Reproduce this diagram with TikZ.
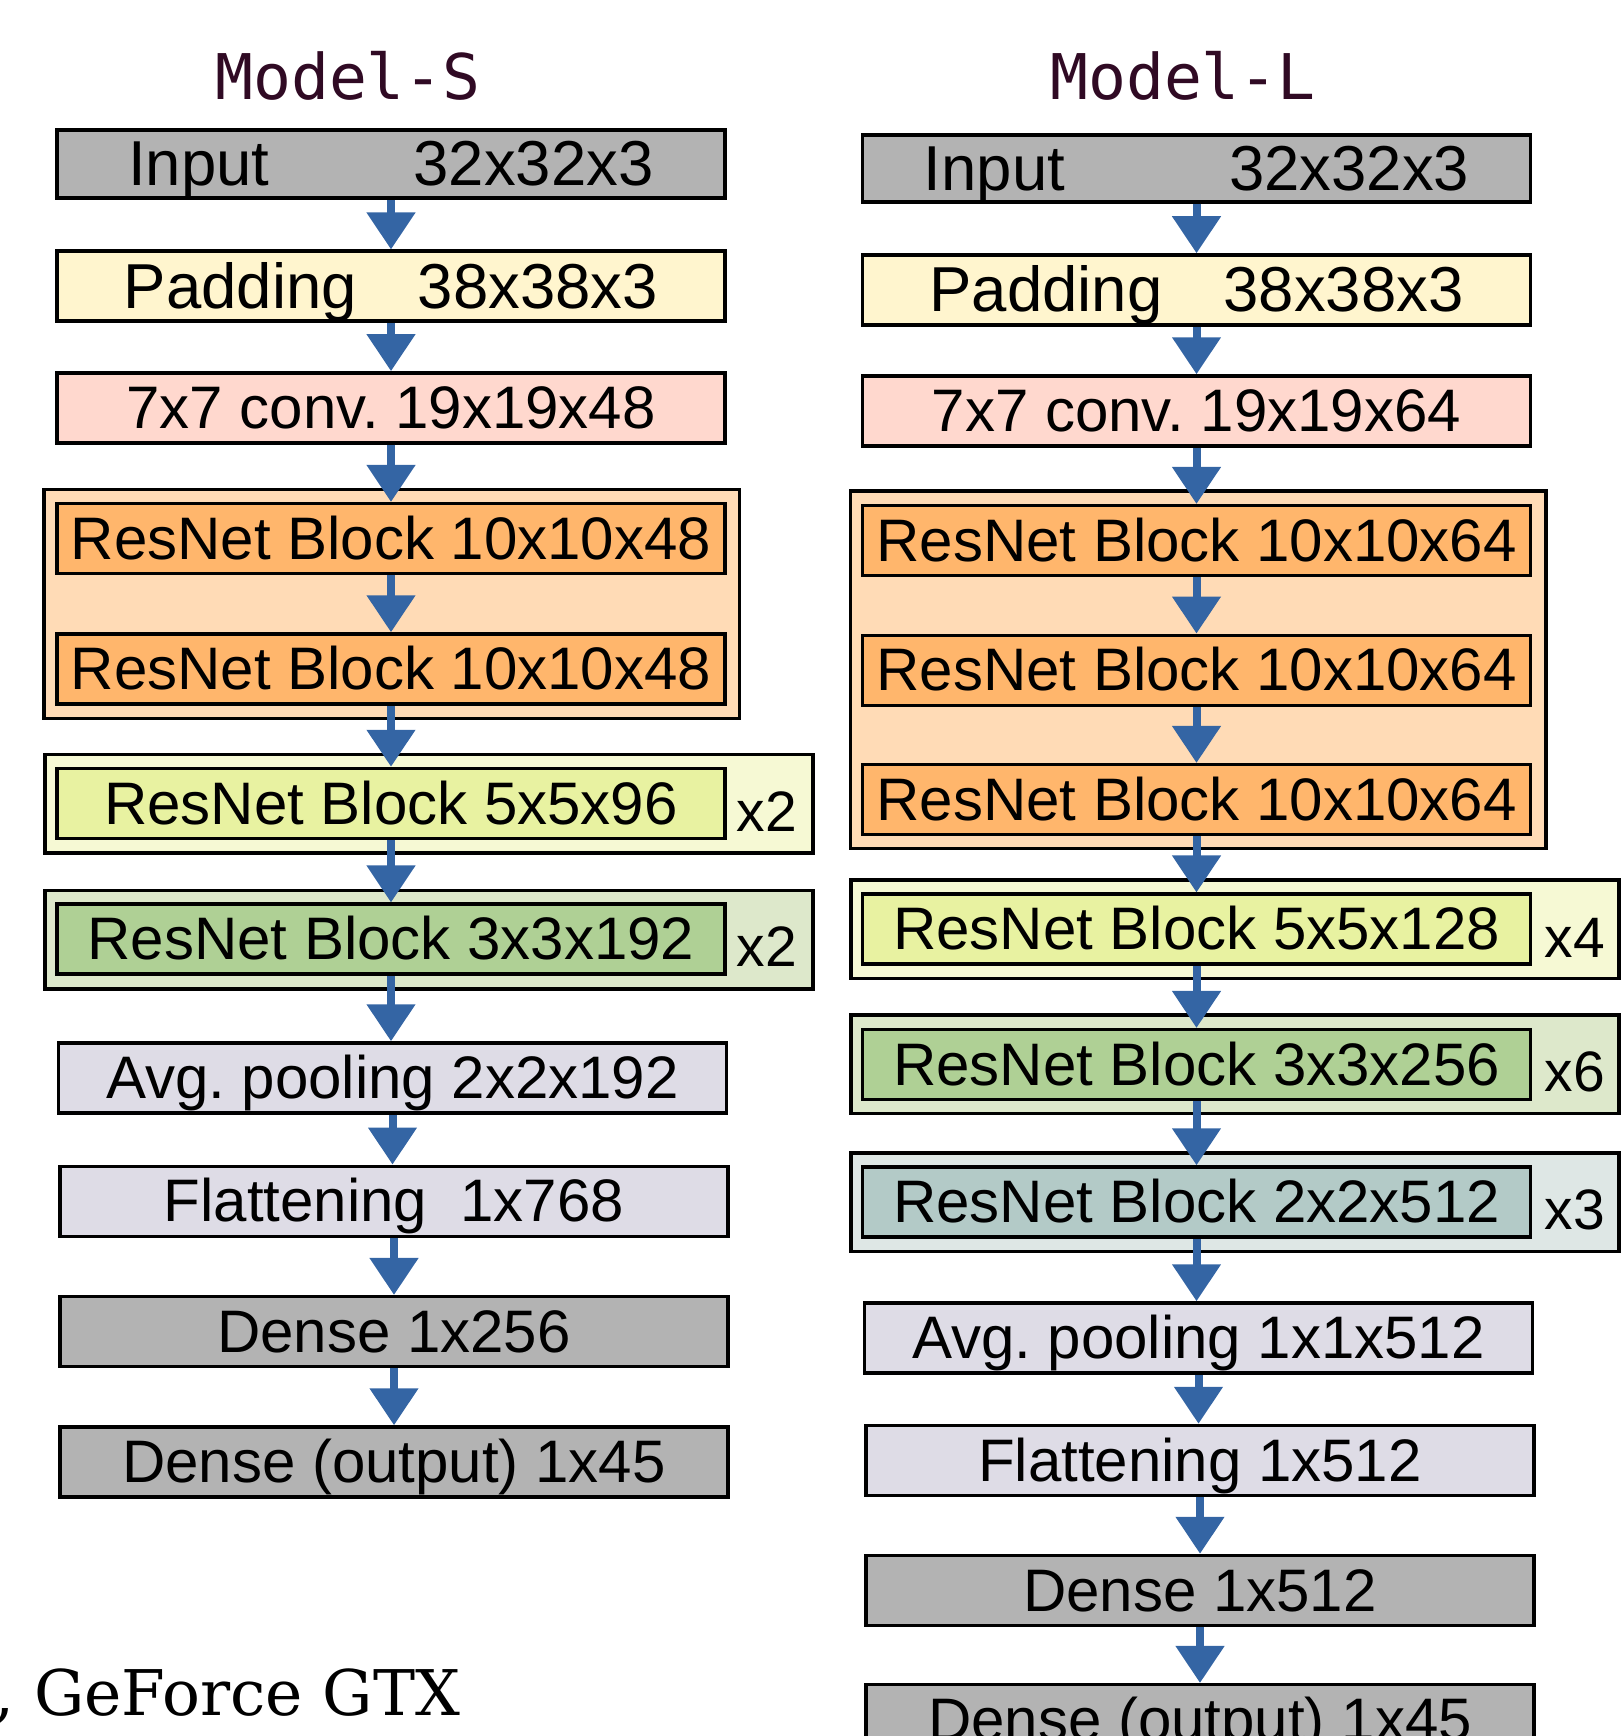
\documentclass[tikz,border=0pt]{standalone}
\usepackage{fontspec}
\setsansfont{Liberation Sans}
\newfontfamily\hdrfont{DejaVu Sans Mono}
\newfontfamily\pagefont{DejaVu Serif}
\usetikzlibrary{arrows.meta,positioning,calc}
\frenchspacing
\definecolor{grayfill}{HTML}{B3B3B3}
\definecolor{padfill}{HTML}{FFF5CE}
\definecolor{convfill}{HTML}{FFD8CE}
\definecolor{orgout}{HTML}{FFDBB6}
\definecolor{orgin}{HTML}{FFB66C}
\definecolor{limeout}{HTML}{F6F9D4}
\definecolor{limein}{HTML}{E8F2A1}
\definecolor{grnout}{HTML}{DDE8CB}
\definecolor{grnin}{HTML}{AFD095}
\definecolor{tealout}{HTML}{DEE7E5}
\definecolor{tealin}{HTML}{B3CAC7}
\definecolor{poolfill}{HTML}{DEDCE6}
\definecolor{arrowblue}{HTML}{3465A4}
\definecolor{hdrclr}{HTML}{300A24}
\begin{document}
\begin{tikzpicture}[font=\sffamily,x=1pt,y=-1pt]
\tikzset{layer/.style={draw=black,line width=3.5pt,minimum width=668pt,minimum height=70pt,inner sep=0pt,text height=41.3pt,text depth=0pt,font=\sffamily\fontsize{60}{72}\selectfont}, big/.style={text height=43.6pt,font=\sffamily\fontsize{63.5}{76}\selectfont}, group/.style={draw=black,line width=3.5pt,inner sep=0pt,minimum width=768pt,minimum height=98.5pt}, rep/.style={anchor=base,inner sep=0pt,font=\sffamily\fontsize{57}{68}\selectfont}, flow/.style={-{Triangle[width=47pt,length=37pt]},line width=8pt,draw=arrowblue}, hdr/.style={anchor=base,inner sep=0pt,text=hdrclr,font=\hdrfont\fontsize{63}{76}\selectfont}}
\useasboundingbox (0,0) rectangle (1621,1736);
% Model-S
\node[hdr] (sHdr) at (348,99.3) {Model-S};
\node[layer,big,fill=grayfill,minimum height=68pt] (sIn) at (391,164.2) {Input\hspace{144pt}32x32x3};
\node[layer,big,fill=padfill] (sPad) at (391,286.2) {Padding\hspace{61pt}38x38x3};
\node[layer,fill=convfill] (sConv) at (391,407.9) {7x7 conv. 19x19x48};
\node[group,fill=orgout,minimum width=695.5pt,minimum height=228.8pt] (sGrpA) at (391.5,603.9) {};
\node[layer,fill=orgin] (sRA1) at (391,538.7) {ResNet Block 10x10x48};
\node[layer,fill=orgin] (sRA2) at (391,669) {ResNet Block 10x10x48};
\node[group,fill=limeout] (sGrpB) at (429,803.7) {};
\node[layer,fill=limein] (sRB) at (391,803.5) {ResNet Block 5x5x96};
\node[rep] (sRepB) at ($(sGrpB.south east)+(-48,-23)$) {x2};
\node[group,fill=grnout] (sGrpC) at (429,939.7) {};
\node[layer,fill=grnin] (sRC) at (391,939.2) {ResNet Block 3x3x192};
\node[rep] (sRepC) at ($(sGrpC.south east)+(-48,-24)$) {x2};
\node[layer,fill=poolfill] (sAvg) at (392.5,1078) {Avg. pooling 2x2x192};
\node[layer,fill=poolfill] (sFlat) at (394,1201.3) {Flattening\ \ 1x768};
\node[layer,fill=grayfill] (sDense) at (394,1331.7) {Dense 1x256};
\node[layer,fill=grayfill] (sOut) at (394,1462) {Dense (output) 1x45};
% Model-L
\node[hdr] (lHdr) at (1183,99.3) {Model-L};
\node[layer,big,fill=grayfill,minimum height=67pt] (lIn) at (1196.5,168.3) {Input\hspace{164pt}32x32x3};
\node[layer,big,fill=padfill] (lPad) at (1196.5,290) {Padding\hspace{61pt}38x38x3};
\node[layer,fill=convfill] (lConv) at (1196.5,411) {7x7 conv. 19x19x64};
\node[group,fill=orgout,minimum width=695.5pt,minimum height=357.2pt] (lGrpA) at (1198,669.7) {};
\node[layer,fill=orgin] (lRA1) at (1196.5,540.7) {ResNet Block 10x10x64};
\node[layer,fill=orgin] (lRA2) at (1196.5,670.3) {ResNet Block 10x10x64};
\node[layer,fill=orgin] (lRA3) at (1196.5,799.7) {ResNet Block 10x10x64};
\node[group,fill=limeout] (lGrpB) at (1235,929.2) {};
\node[layer,fill=limein] (lRB) at (1196.5,929.2) {ResNet Block 5x5x128};
\node[rep] (lRepB) at ($(lGrpB.south east)+(-46,-23)$) {x4};
\node[group,fill=grnout] (lGrpC) at (1235,1064.4) {};
\node[layer,fill=grnin] (lRC) at (1196.5,1064.7) {ResNet Block 3x3x256};
\node[rep] (lRepC) at ($(lGrpC.south east)+(-46,-24)$) {x6};
\node[group,fill=tealout] (lGrpD) at (1235,1202.2) {};
\node[layer,fill=tealin] (lRD) at (1196.5,1202) {ResNet Block 2x2x512};
\node[rep] (lRepD) at ($(lGrpD.south east)+(-46,-24)$) {x3};
\node[layer,fill=poolfill] (lAvg) at (1198.5,1338) {Avg. pooling 1x1x512};
\node[layer,fill=poolfill] (lFlat) at (1200,1460.5) {Flattening 1x512};
\node[layer,fill=grayfill] (lDense) at (1200,1590.5) {Dense 1x512};
\node[layer,fill=grayfill] (lOut) at (1200,1719.7) {Dense (output) 1x45};
% Arrows run straight down from each layer
\foreach \a/\b in {sIn/sPad,sPad/sConv,sConv/sRA1,sRA1/sRA2,sRA2/sRB,sRB/sRC,sRC/sAvg,sAvg/sFlat,sFlat/sDense,sDense/sOut,lIn/lPad,lPad/lConv,lConv/lRA1,lRA1/lRA2,lRA2/lRA3,lRA3/lRB,lRB/lRC,lRC/lRD,lRD/lAvg,lAvg/lFlat,lFlat/lDense,lDense/lOut}{\draw[flow] (\a.south) -- (\a.south |- \b.north);}
\node[anchor=base west,inner sep=0pt,font=\pagefont\fontsize{63}{76}\selectfont] (pageTxt) at (-6,1715) {, GeForce GTX};
\end{tikzpicture}
\end{document}
